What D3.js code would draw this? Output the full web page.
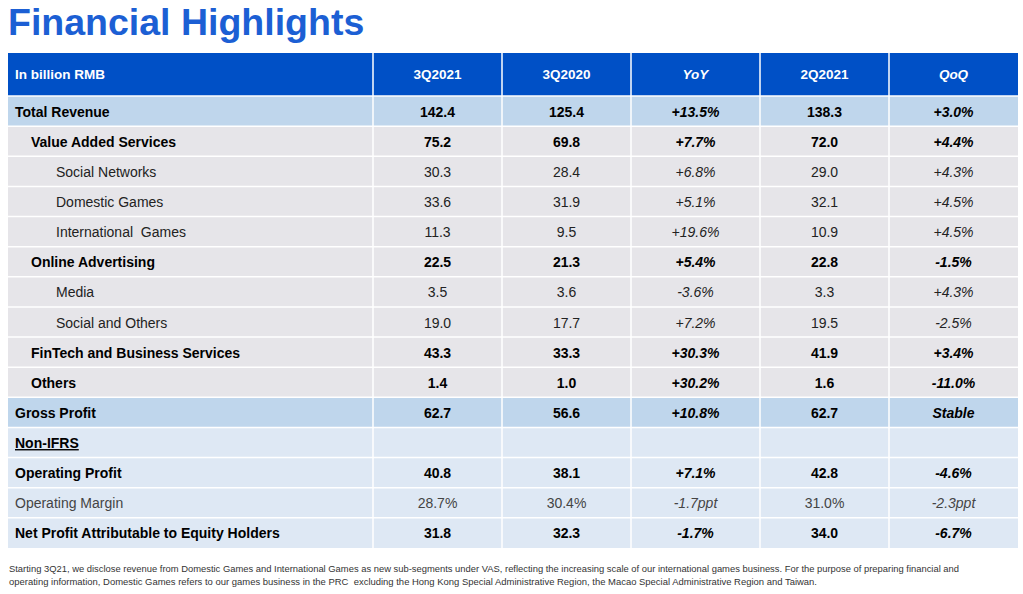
<!DOCTYPE html>
<html><head><meta charset="utf-8">
<script src="https://cdn.jsdelivr.net/npm/d3@7"></script>
<style>
html,body{margin:0;padding:0;background:#fff;}
svg{display:block;font-family:"Liberation Sans",Arial,sans-serif;}
svg text{white-space:pre;}
</style></head>
<body><svg id="c" width="1023" height="594"></svg>
<script>
const title = "Financial Highlights";
const columns = ["In billion RMB","3Q2021","3Q2020","YoY","2Q2021","QoQ"];
const rowLabels = ["Total Revenue","Value Added Services","Social Networks","Domestic Games","International  Games","Online Advertising","Media","Social and Others","FinTech and Business Services","Others","Gross Profit","Non-IFRS","Operating Profit","Operating Margin","Net Profit Attributable to Equity Holders"];
const q3_2021 = ["142.4","75.2","30.3","33.6","11.3","22.5","3.5","19.0","43.3","1.4","62.7","","40.8","28.7%","31.8"];
const q3_2020 = ["125.4","69.8","28.4","31.9","9.5","21.3","3.6","17.7","33.3","1.0","56.6","","38.1","30.4%","32.3"];
const yoy = ["+13.5%","+7.7%","+6.8%","+5.1%","+19.6%","+5.4%","-3.6%","+7.2%","+30.3%","+30.2%","+10.8%","","+7.1%","-1.7ppt","-1.7%"];
const q2_2021 = ["138.3","72.0","29.0","32.1","10.9","22.8","3.3","19.5","41.9","1.6","62.7","","42.8","31.0%","34.0"];
const qoq = ["+3.0%","+4.4%","+4.3%","+4.5%","+4.5%","-1.5%","+4.3%","-2.5%","+3.4%","-11.0%","Stable","","-4.6%","-2.3ppt","-6.7%"];
const rowLevel = [0,1,2,2,2,1,2,2,1,1,0,0,0,0,0];
const rowGroup = ["total","seg","seg","seg","seg","seg","seg","seg","seg","seg","total","nonifrs","nonifrs","nonifrs","nonifrs"];
const footnote = [
 "Starting 3Q21, we disclose revenue from Domestic Games and International Games as new sub-segments under VAS, reflecting the increasing scale of our international games business. For the purpose of preparing financial and",
 "operating information, Domestic Games refers to our games business in the PRC  excluding the Hong Kong Special Administrative Region, the Macao Special Administrative Region and Taiwan."
];

const svg = d3.select("#c");
const valueCols = [q3_2021,q3_2020,yoy,q2_2021,qoq];
const italicCol = [false,false,true,false,true];

svg.append("text").attr("x",8).attr("y",35).text(title)
  .attr("font-size",37.5).attr("font-weight","bold").attr("fill","#1C5FD4");

const tableL = 8, tableR = 1018, firstColR = 373;
const xCol = d3.scaleBand().domain(d3.range(5)).range([firstColR, tableR]);
const headerTop = 53, headerBot = 96, tableBot = 548;
const y = d3.scaleBand().domain(d3.range(rowLabels.length)).range([headerBot, tableBot]);

const bg = {total:"#BFD6EC", seg:"#E6E5E9", nonifrs:"#DEE8F4"};
const g = svg.append("g");

// header
g.append("rect").attr("x",tableL).attr("y",headerTop).attr("width",tableR-tableL).attr("height",headerBot-headerTop).attr("fill","#0050C6");
g.append("text").attr("x",15).attr("y",(headerTop+headerBot)/2+4.5).text(columns[0])
  .attr("fill","#fff").attr("font-weight","bold").attr("font-size",13.5);
columns.slice(1).forEach((c,i)=>{
  g.append("text").attr("x",xCol(i)+xCol.bandwidth()/2).attr("y",(headerTop+headerBot)/2+4.5)
   .attr("text-anchor","middle").text(c).attr("fill","#fff").attr("font-weight","bold")
   .attr("font-size",13.5).attr("font-style",italicCol[i]?"italic":"normal");
});

// rows
rowLabels.forEach((lab,r)=>{
  const y0 = y(r), h = y.bandwidth();
  g.append("rect").attr("x",tableL).attr("y",y0).attr("width",tableR-tableL).attr("height",h).attr("fill",bg[rowGroup[r]]);
  const bold = !(rowLevel[r]===2 || lab==="Operating Margin");
  const col = lab==="Operating Margin" ? "#444" : (rowLevel[r]===2 ? "#222" : "#000");
  const lx = [15,31,56][rowLevel[r]];
  const t = g.append("text").attr("x",lx).attr("y",y0+h/2+5.5).text(lab)
    .attr("font-size",14).attr("font-weight",bold?"bold":"normal").attr("fill",col);
  if(lab==="Non-IFRS") t.attr("text-decoration","underline");
  valueCols.forEach((arr,i)=>{
    g.append("text").attr("x",xCol(i)+xCol.bandwidth()/2).attr("y",y0+h/2+5.5)
     .attr("text-anchor","middle").text(arr[r]).attr("font-size",14)
     .attr("font-weight",bold?"bold":"normal").attr("fill",col)
     .attr("font-style",italicCol[i]?"italic":"normal");
  });
});

// grid lines (white)
const lines = g.append("g").attr("stroke","#fff").attr("stroke-width",1.5);
y.domain().forEach(r=>{
  lines.append("line").attr("x1",tableL).attr("x2",tableR).attr("y1",y(r)).attr("y2",y(r));
});
lines.append("line").attr("x1",firstColR).attr("x2",firstColR).attr("y1",headerTop).attr("y2",tableBot);
d3.range(1,5).forEach(i=>{
  lines.append("line").attr("x1",xCol(i)).attr("x2",xCol(i)).attr("y1",headerTop).attr("y2",tableBot);
});

// footnote
footnote.forEach((s,i)=>{
  svg.append("text").attr("x",9).attr("y",572+i*13).text(s)
   .attr("font-size",8.8).attr("fill","#333")
   .attr("textLength", i===0?950:808).attr("lengthAdjust","spacingAndGlyphs");
});
</script></body></html>
